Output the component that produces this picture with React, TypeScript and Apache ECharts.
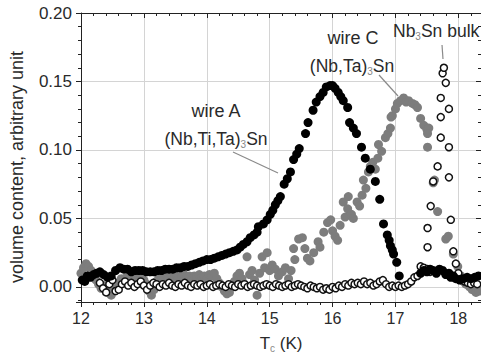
import React, { useEffect, useRef } from 'react';
import * as echarts from 'echarts';

// wire A, (Nb,Ti,Ta)3Sn  — black filled circles  [Tc (K), volume content]
const wireA: [number, number][] = [
  [12.02, 0.005], [12.06, 0.004], [12.10, 0.008], [12.15, 0.007], [12.20, 0.009], [12.25, 0.010],
  [12.30, 0.011], [12.36, 0.009], [12.42, 0.007], [12.48, 0.008], [12.55, 0.012], [12.62, 0.014],
  [12.68, 0.013], [12.74, 0.013], [12.80, 0.011], [12.86, 0.012], [12.92, 0.012], [12.98, 0.012],
  [13.04, 0.011], [13.10, 0.011], [13.16, 0.011], [13.22, 0.012], [13.28, 0.012], [13.34, 0.013],
  [13.40, 0.013], [13.46, 0.013], [13.52, 0.014], [13.58, 0.014], [13.64, 0.015], [13.70, 0.015],
  [13.76, 0.016], [13.82, 0.017], [13.88, 0.018], [13.94, 0.019], [14.00, 0.020], [14.06, 0.020],
  [14.12, 0.021], [14.18, 0.022], [14.24, 0.023], [14.30, 0.024], [14.36, 0.025], [14.42, 0.026],
  [14.48, 0.027], [14.53, 0.029], [14.58, 0.031], [14.64, 0.033], [14.69, 0.036], [14.75, 0.038],
  [14.80, 0.040], [14.82, 0.044], [14.90, 0.046], [14.96, 0.049], [15.01, 0.053], [15.05, 0.056],
  [15.09, 0.060], [15.13, 0.063], [15.17, 0.066], [15.23, 0.075], [15.28, 0.079], [15.33, 0.084],
  [15.38, 0.093], [15.43, 0.097], [15.47, 0.101], [15.57, 0.112], [15.61, 0.120], [15.69, 0.129],
  [15.74, 0.135], [15.80, 0.139], [15.85, 0.142], [15.90, 0.146], [15.96, 0.147], [16.00, 0.147],
  [16.04, 0.145], [16.09, 0.142], [16.13, 0.139], [16.17, 0.136], [16.24, 0.131], [16.27, 0.120],
  [16.33, 0.116], [16.38, 0.112], [16.46, 0.102], [16.52, 0.094], [16.60, 0.086], [16.68, 0.077],
  [16.75, 0.064], [16.81, 0.046], [16.87, 0.038], [16.90, 0.034], [16.92, 0.030], [16.95, 0.027],
  [16.97, 0.024], [17.02, 0.018], [17.06, 0.008],
  [17.40, 0.010], [17.45, 0.012], [17.50, 0.011], [17.55, 0.013], [17.60, 0.012], [17.65, 0.010],
  [17.70, 0.013], [17.75, 0.012], [17.80, 0.009], [17.85, 0.010], [17.88, 0.007], [17.92, 0.008],
  [17.96, 0.006], [18.02, 0.005], [18.08, 0.006], [18.14, 0.007], [18.20, 0.006], [18.26, 0.007],
  [18.32, 0.008],
];

// wire C, (Nb,Ta)3Sn — grey filled circles
const wireC: [number, number][] = [
  [12.00, 0.010], [12.04, 0.014], [12.08, 0.017], [12.12, 0.015], [12.16, 0.012], [12.20, 0.008],
  [12.24, 0.005], [12.28, 0.002], [12.32, -0.001], [12.36, 0.001], [12.40, -0.003], [12.44, -0.004],
  [12.48, -0.006], [12.52, -0.003], [12.56, 0.000], [12.60, 0.003], [12.64, 0.006], [12.68, 0.004],
  [12.72, 0.007], [12.76, 0.005], [12.80, 0.007], [12.84, 0.008], [12.88, 0.006], [12.92, 0.008],
  [12.96, 0.007], [13.00, 0.005], [13.04, 0.002], [13.08, -0.003], [13.12, -0.006], [13.16, -0.002],
  [13.20, 0.004], [13.24, 0.007], [13.28, 0.008], [13.32, 0.006], [13.36, 0.009], [13.40, 0.007],
  [13.44, 0.008], [13.48, 0.006], [13.52, 0.009], [13.56, 0.008], [13.60, 0.007], [13.64, 0.009],
  [13.68, 0.007], [13.72, 0.008], [13.76, 0.006], [13.80, 0.008], [13.84, 0.007], [13.88, 0.009],
  [13.92, 0.007], [13.96, 0.008], [14.00, 0.006], [14.04, 0.009], [14.08, 0.008], [14.12, 0.010],
  [14.16, 0.006], [14.20, 0.003], [14.24, 0.000], [14.28, -0.003], [14.32, -0.005], [14.36, -0.004],
  [14.40, 0.000], [14.44, 0.004], [14.48, 0.008], [14.52, 0.010], [14.56, 0.006], [14.60, 0.002],
  [14.64, 0.022], [14.68, 0.009], [14.72, 0.012], [14.76, 0.005], [14.80, -0.006], [14.84, 0.010],
  [14.88, 0.022], [14.92, 0.014], [14.96, 0.025], [15.00, 0.012], [15.04, 0.016], [15.09, 0.013],
  [15.14, 0.008], [15.20, 0.011], [15.25, 0.014], [15.30, 0.006], [15.34, 0.012], [15.38, 0.028],
  [15.40, 0.020], [15.46, 0.035], [15.52, 0.036], [15.56, 0.028], [15.60, 0.021], [15.64, 0.019],
  [15.70, 0.025], [15.77, 0.033], [15.80, 0.029], [15.86, 0.040], [15.92, 0.047], [15.97, 0.049],
  [16.00, 0.041], [16.04, 0.037], [16.08, 0.034], [16.12, 0.045], [16.17, 0.062], [16.20, 0.051],
  [16.24, 0.057], [16.25, 0.066], [16.30, 0.053], [16.33, 0.050], [16.39, 0.062], [16.43, 0.059],
  [16.47, 0.067], [16.49, 0.078], [16.53, 0.072], [16.57, 0.084], [16.60, 0.088], [16.64, 0.091],
  [16.68, 0.086], [16.72, 0.094], [16.73, 0.104], [16.78, 0.099], [16.84, 0.109], [16.88, 0.112],
  [16.92, 0.116], [16.93, 0.124], [16.95, 0.125], [17.00, 0.130], [17.03, 0.134], [17.08, 0.136],
  [17.13, 0.138], [17.17, 0.135], [17.21, 0.136], [17.27, 0.134], [17.31, 0.133], [17.35, 0.131],
  [17.40, 0.123], [17.45, 0.118], [17.50, 0.115], [17.53, 0.116], [17.51, 0.112], [17.51, 0.102],
  [17.60, 0.076], [17.67, 0.055], [17.62, 0.078], [17.80, 0.035], [17.84, 0.037], [17.92, 0.024],
  [17.99, 0.015], [18.04, 0.008], [18.08, 0.004], [18.12, 0.002], [18.18, 0.000], [18.22, -0.002],
  [18.28, -0.004], [18.33, -0.003],
];

// Nb3Sn bulk — open circles
const bulk: [number, number][] = [
  [12.30, 0.003], [12.35, -0.001], [12.40, -0.004], [12.45, 0.002], [12.50, 0.005], [12.55, -0.003],
  [12.60, -0.002], [12.65, 0.002], [12.70, 0.004], [12.75, 0.001], [12.80, 0.003], [12.85, 0.000],
  [12.90, 0.002], [12.95, 0.004], [13.00, 0.001], [13.05, -0.002], [13.10, 0.001], [13.15, 0.003],
  [13.20, 0.002], [13.25, 0.000], [13.30, 0.002], [13.35, 0.001], [13.40, 0.003], [13.45, 0.001],
  [13.50, 0.000], [13.55, 0.002], [13.60, 0.001], [13.65, 0.003], [13.70, 0.001], [13.75, 0.000],
  [13.80, 0.002], [13.85, 0.001], [13.90, 0.002], [13.95, 0.000], [14.00, 0.001], [14.05, 0.002],
  [14.10, 0.000], [14.15, 0.001], [14.20, 0.002], [14.25, 0.001], [14.30, 0.000], [14.35, 0.002],
  [14.40, 0.001], [14.45, 0.000], [14.50, 0.002], [14.55, 0.001], [14.60, 0.002], [14.65, 0.000],
  [14.70, 0.001], [14.75, 0.002], [14.80, 0.001], [14.85, 0.000], [14.90, 0.001], [14.95, 0.002],
  [15.00, 0.001], [15.05, 0.000], [15.10, 0.002], [15.15, 0.001], [15.20, 0.000], [15.25, 0.001],
  [15.30, 0.002], [15.35, 0.000], [15.40, 0.001], [15.45, 0.002], [15.50, 0.001], [15.55, 0.000],
  [15.60, -0.001], [15.65, 0.001], [15.70, 0.000], [15.75, -0.001], [15.80, 0.000], [15.85, -0.002],
  [15.90, -0.001], [15.95, -0.002], [16.00, 0.000], [16.05, -0.001], [16.10, 0.001], [16.15, 0.000],
  [16.20, 0.002], [16.25, 0.001], [16.30, 0.003], [16.35, 0.002], [16.40, 0.003], [16.45, 0.002],
  [16.50, 0.004], [16.55, 0.002], [16.60, 0.003], [16.65, 0.001], [16.70, 0.002], [16.75, 0.004],
  [16.80, 0.005], [16.85, 0.002], [16.90, 0.000], [16.95, 0.001], [17.00, 0.000], [17.05, 0.001],
  [17.10, 0.000], [17.15, 0.001], [17.20, 0.002], [17.25, 0.004], [17.30, 0.007], [17.35, 0.008],
  [17.40, 0.015], [17.45, 0.014], [17.51, 0.013], [17.55, 0.011],
  [17.51, 0.029], [17.51, 0.043], [17.56, 0.059], [17.60, 0.077], [17.67, 0.088], [17.72, 0.109],
  [17.72, 0.124], [17.72, 0.138], [17.75, 0.156], [17.77, 0.160], [17.80, 0.149], [17.85, 0.130],
  [17.85, 0.102], [17.85, 0.080], [17.88, 0.049], [17.92, 0.026], [17.96, 0.017],
  [18.00, 0.010], [18.05, 0.006], [18.10, 0.004], [18.15, 0.003], [18.20, 0.002], [18.25, 0.003],
  [18.30, 0.002],
];

const FONT = '"Liberation Sans", Arial, Helvetica, sans-serif';
const AXIS_COLOR = '#222';
const TEXT_COLOR = '#2a2a2a';

export default function App() {
  const ref = useRef<HTMLDivElement>(null);

  useEffect(() => {
    if (!ref.current) return;
    const chart = echarts.init(ref.current, undefined, { renderer: 'svg' });

    const baseX = {
      type: 'value' as const,
      min: 12,
      max: 18.36,
      interval: 1,
    };
    const baseY = {
      type: 'value' as const,
      min: -0.011,
      max: 0.2,
    };
    const sub = { fontSize: 10, verticalAlign: 'bottom', lineHeight: 11, fontFamily: FONT, fill: '#888', color: '#888' };
    const main = (size: number) => ({ fontSize: size, lineHeight: 20, verticalAlign: 'middle', fontFamily: FONT, fill: TEXT_COLOR, color: TEXT_COLOR });

    const option: any = {
      animation: false,
      backgroundColor: '#fff',
      grid: { left: 81, right: 0, top: 13, bottom: 55, containLabel: false },
      xAxis: [
        {
          ...baseX,
          position: 'bottom',
          axisLine: { show: true, onZero: false, lineStyle: { color: AXIS_COLOR, width: 1 } },
          axisTick: { show: true, inside: false, length: 5, lineStyle: { color: AXIS_COLOR } },
          minorTick: { show: true, splitNumber: 5, length: 3, lineStyle: { color: AXIS_COLOR } },
          axisLabel: { color: TEXT_COLOR, fontSize: 16, fontFamily: FONT, margin: 8, showMaxLabel: false },
          splitLine: { show: true, lineStyle: { color: '#d4d4d4', width: 1 } },
          name: '{a|T}{s|c}{a| (K)}',
          nameLocation: 'middle',
          nameGap: 31,
          nameTextStyle: {
            rich: {
              a: { fontSize: 17, lineHeight: 20, verticalAlign: 'middle', fontFamily: FONT, color: TEXT_COLOR },
              s: { fontSize: 10, lineHeight: 11, verticalAlign: 'bottom', fontFamily: FONT, color: '#888' },
            },
          },
        },
        {
          ...baseX,
          position: 'top',
          axisLine: { show: true, onZero: false, lineStyle: { color: AXIS_COLOR, width: 1 } },
          axisTick: { show: true, inside: true, length: 5, lineStyle: { color: AXIS_COLOR } },
          minorTick: { show: true, splitNumber: 5, length: 3, lineStyle: { color: AXIS_COLOR } },
          axisLabel: { show: false },
          splitLine: { show: false },
        },
      ],
      yAxis: [
        {
          ...baseY,
          position: 'left',
          axisLine: { show: true, onZero: false, lineStyle: { color: AXIS_COLOR, width: 1 } },
          axisTick: { show: true, inside: false, length: 5, lineStyle: { color: AXIS_COLOR } },
          minorTick: { show: true, splitNumber: 5, length: 3, lineStyle: { color: AXIS_COLOR } },
          axisLabel: {
            color: TEXT_COLOR,
            fontSize: 17,
            fontFamily: FONT,
            margin: 9,
            showMinLabel: false,
            formatter: (v: number) => v.toFixed(2),
          },
          splitLine: { show: true, lineStyle: { color: '#d4d4d4', width: 1 } },
        },
        {
          ...baseY,
          position: 'right',
          axisLine: { show: true, onZero: false, lineStyle: { color: AXIS_COLOR, width: 1 } },
          axisTick: { show: true, inside: true, length: 5, lineStyle: { color: AXIS_COLOR } },
          minorTick: { show: true, splitNumber: 5, length: 3, lineStyle: { color: AXIS_COLOR } },
          axisLabel: { show: false },
          splitLine: { show: false },
        },
      ],
      series: [
        {
          name: 'wire C',
          type: 'scatter',
          data: wireC,
          symbol: 'circle',
          symbolSize: 9,
          itemStyle: { color: '#7d7d7d', opacity: 1 },
          clip: false,
          z: 2,
        },
        {
          name: 'Nb3Sn bulk',
          type: 'scatter',
          data: bulk,
          symbol: 'circle',
          symbolSize: 7,
          itemStyle: { color: '#ffffff', borderColor: '#111', borderWidth: 1.5, opacity: 1 },
          clip: false,
          z: 3,
        },
        {
          name: 'wire A',
          type: 'scatter',
          data: wireA,
          symbol: 'circle',
          symbolSize: 9,
          itemStyle: { color: '#000000', opacity: 1 },
          clip: false,
          z: 4,
        },
      ],
      graphic: [
        {
          type: 'text',
          x: 17,
          y: 167,
          rotation: Math.PI / 2,
          style: {
            text: 'volume content, arbitrary unit',
            fontSize: 18,
            fontFamily: FONT,
            fill: TEXT_COLOR,
            align: 'center',
            verticalAlign: 'middle',
          },
          z: 10,
        },
        {
          type: 'text',
          x: 216,
          y: 111,
          style: { text: 'wire A', fontSize: 18, fontFamily: FONT, fill: TEXT_COLOR, align: 'center', verticalAlign: 'middle' },
          z: 10,
        },
        {
          type: 'text',
          x: 216,
          y: 139,
          style: {
            text: '{a|(Nb,Ti,Ta)}{s|3}{a|Sn}',
            rich: { a: main(17.5), s: sub },
            align: 'center',
            verticalAlign: 'middle',
          },
          z: 10,
        },
        {
          type: 'text',
          x: 353,
          y: 38,
          style: { text: 'wire C', fontSize: 18, fontFamily: FONT, fill: TEXT_COLOR, align: 'center', verticalAlign: 'middle' },
          z: 10,
        },
        {
          type: 'text',
          x: 352,
          y: 66,
          style: {
            text: '{a|(Nb,Ta)}{s|3}{a|Sn}',
            rich: { a: main(17.5), s: sub },
            align: 'center',
            verticalAlign: 'middle',
          },
          z: 10,
        },
        {
          type: 'text',
          x: 393,
          y: 31,
          style: {
            text: '{a|Nb}{s|3}{a|Sn bulk}',
            rich: { a: main(17.5), s: sub },
            align: 'left',
            verticalAlign: 'middle',
          },
          z: 10,
        },
        {
          type: 'line',
          shape: { x1: 233, y1: 152, x2: 278, y2: 173 },
          style: { stroke: '#8a8a8a', lineWidth: 1.2 },
          z: 10,
        },
        {
          type: 'line',
          shape: { x1: 379, y1: 75, x2: 398, y2: 96 },
          style: { stroke: '#8a8a8a', lineWidth: 1.2 },
          z: 10,
        },
        {
          type: 'line',
          shape: { x1: 442, y1: 45, x2: 443, y2: 59 },
          style: { stroke: '#8a8a8a', lineWidth: 1.2 },
          z: 10,
        },
      ],
    };

    chart.setOption(option);
    return () => chart.dispose();
  }, []);

  return (
    <div
      ref={ref}
      style={{ position: 'fixed', left: 0, top: 0, width: 481, height: 358, background: '#fff' }}
    />
  );
}
